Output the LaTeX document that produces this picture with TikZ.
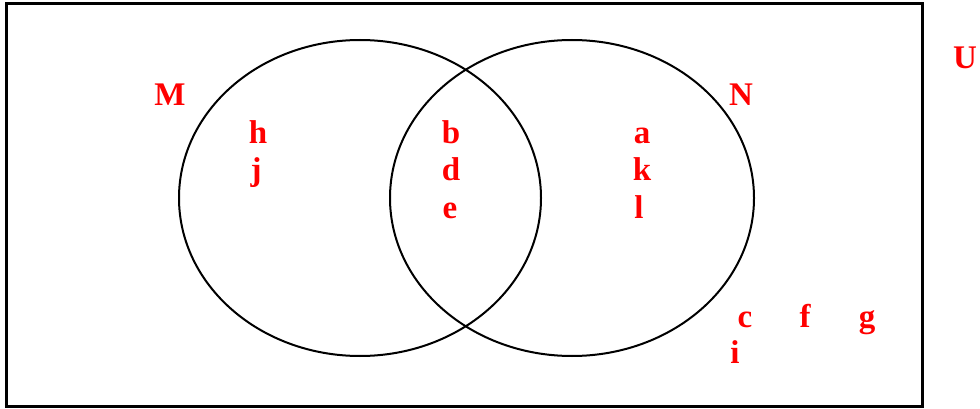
\documentclass[tikz,border=0pt]{standalone}
\usepackage{fontspec}
\setmainfont{Liberation Serif}
\begin{document}
\begin{tikzpicture}[x=1pt,y=-1pt,
  lbl/.style={text=red,font=\fontsize{33}{38}\selectfont\bfseries,anchor=base,inner sep=0pt},
  setline/.style={draw=black,line width=2pt}]
\useasboundingbox (0,0) rectangle (980,409);
\draw[black,line width=3pt] (6.5,4) rectangle (922.5,406.5);
\draw[setline] (360,198) ellipse [x radius=181,y radius=158];
\draw[setline] (572,198) ellipse [x radius=182,y radius=158];
\node[lbl] (M) at (170,106) {M};
\node[lbl] (N) at (741,106) {N};
\node[lbl] (U) at (965,69) {U};
\node[lbl] (h) at (258,143) {h};
\node[lbl] (j) at (256,181) {j};
\node[lbl] (b) at (451,143) {b};
\node[lbl] (d) at (451,181) {d};
\node[lbl] (e) at (450,218) {e};
\node[lbl] (a) at (642,143) {a};
\node[lbl] (k) at (642,180) {k};
\node[lbl] (l) at (639,218) {l};
\node[lbl] (c) at (745,327) {c};
\node[lbl] (f) at (805,327) {f};
\node[lbl] (g) at (867,327) {g};
\node[lbl] (i) at (735,363) {i};
\end{tikzpicture}
\end{document}
